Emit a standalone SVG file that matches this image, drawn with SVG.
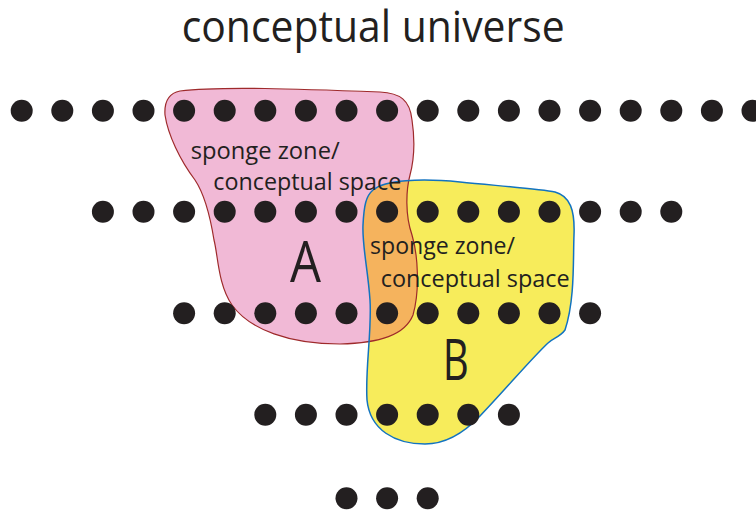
<svg xmlns="http://www.w3.org/2000/svg" width="756" height="512" viewBox="0 0 756 512">
<style>
.dot{fill:#231f20}
.t{font-family:"Open Sans","Liberation Sans",sans-serif;fill:#231f20}
.lbl{font-size:23px}
.big{font-size:56px}
</style>
<defs>
<path id="pinkShape" d="M 180,91 C 220,86 300,89 380,92 C 400,93 410,100 412,120 C 415,140 414,160 410,175 C 406,190 405,215 412,235 C 418,255 420,290 413,315 C 405,335 380,343 340,344 C 290,344 250,330 232,305 C 218,285 218,255 214,240 C 210,215 205,195 195,180 C 180,160 168,135 165,115 C 164,100 170,93 180,91 Z"/>
<path id="yellowShape" d="M 373,190 C 385,180 420,178 460,182 C 500,186 540,189 555,192 C 570,196 575,210 574,235 C 573,260 575,300 565,330 C 560,337 553,338 548,343 C 530,360 505,390 480,416 C 460,437 440,444 425,444 C 395,444 370,430 367,400 C 365,370 372,330 370,300 C 368,270 362,245 363,225 C 364,205 366,196 373,190 Z"/>
<clipPath id="yclip"><use href="#yellowShape"/></clipPath>
</defs>
<text class="t" x="181.7" y="41.7" font-size="44" textLength="383" lengthAdjust="spacingAndGlyphs">conceptual universe</text>
<g id="zoneA">
<use href="#pinkShape" fill="#f1b9d6"/>
</g>
<g id="zoneB">
<use href="#yellowShape" fill="#f7ec5b"/>
<use href="#pinkShape" fill="#f5b35d" clip-path="url(#yclip)"/>
<use href="#pinkShape" fill="none" stroke="#9e2a2b" stroke-width="1.2"/>
<use href="#yellowShape" fill="none" stroke="#1273c0" stroke-width="1.5"/>
</g>
<g id="dots">
<g id="row1">
<circle class="dot" cx="21.7" cy="110.7" r="11"/>
<circle class="dot" cx="62.3" cy="110.7" r="11"/>
<circle class="dot" cx="102.9" cy="110.7" r="11"/>
<circle class="dot" cx="143.5" cy="110.7" r="11"/>
<circle class="dot" cx="184.1" cy="110.7" r="11"/>
<circle class="dot" cx="224.7" cy="110.7" r="11"/>
<circle class="dot" cx="265.3" cy="110.7" r="11"/>
<circle class="dot" cx="305.9" cy="110.7" r="11"/>
<circle class="dot" cx="346.5" cy="110.7" r="11"/>
<circle class="dot" cx="387.1" cy="110.7" r="11"/>
<circle class="dot" cx="427.7" cy="110.7" r="11"/>
<circle class="dot" cx="468.3" cy="110.7" r="11"/>
<circle class="dot" cx="508.9" cy="110.7" r="11"/>
<circle class="dot" cx="549.5" cy="110.7" r="11"/>
<circle class="dot" cx="590.1" cy="110.7" r="11"/>
<circle class="dot" cx="630.7" cy="110.7" r="11"/>
<circle class="dot" cx="671.3" cy="110.7" r="11"/>
<circle class="dot" cx="711.9" cy="110.7" r="11"/>
<circle class="dot" cx="752.5" cy="110.7" r="11"/>
</g>
<g id="row2">
<circle class="dot" cx="102.9" cy="211.7" r="11"/>
<circle class="dot" cx="143.5" cy="211.7" r="11"/>
<circle class="dot" cx="184.1" cy="211.7" r="11"/>
<circle class="dot" cx="224.7" cy="211.7" r="11"/>
<circle class="dot" cx="265.3" cy="211.7" r="11"/>
<circle class="dot" cx="305.9" cy="211.7" r="11"/>
<circle class="dot" cx="346.5" cy="211.7" r="11"/>
<circle class="dot" cx="387.1" cy="211.7" r="11"/>
<circle class="dot" cx="427.7" cy="211.7" r="11"/>
<circle class="dot" cx="468.3" cy="211.7" r="11"/>
<circle class="dot" cx="508.9" cy="211.7" r="11"/>
<circle class="dot" cx="549.5" cy="211.7" r="11"/>
<circle class="dot" cx="590.1" cy="211.7" r="11"/>
<circle class="dot" cx="630.7" cy="211.7" r="11"/>
<circle class="dot" cx="671.3" cy="211.7" r="11"/>
</g>
<g id="row3">
<circle class="dot" cx="184.1" cy="313.3" r="11"/>
<circle class="dot" cx="224.7" cy="313.3" r="11"/>
<circle class="dot" cx="265.3" cy="313.3" r="11"/>
<circle class="dot" cx="305.9" cy="313.3" r="11"/>
<circle class="dot" cx="346.5" cy="313.3" r="11"/>
<circle class="dot" cx="387.1" cy="313.3" r="11"/>
<circle class="dot" cx="427.7" cy="313.3" r="11"/>
<circle class="dot" cx="468.3" cy="313.3" r="11"/>
<circle class="dot" cx="508.9" cy="313.3" r="11"/>
<circle class="dot" cx="549.5" cy="313.3" r="11"/>
<circle class="dot" cx="590.1" cy="313.3" r="11"/>
</g>
<g id="row4">
<circle class="dot" cx="265.3" cy="414.7" r="11"/>
<circle class="dot" cx="305.9" cy="414.7" r="11"/>
<circle class="dot" cx="346.5" cy="414.7" r="11"/>
<circle class="dot" cx="387.1" cy="414.7" r="11"/>
<circle class="dot" cx="427.7" cy="414.7" r="11"/>
<circle class="dot" cx="468.3" cy="414.7" r="11"/>
<circle class="dot" cx="508.9" cy="414.7" r="11"/>
</g>
<g id="row5">
<circle class="dot" cx="346.5" cy="498.3" r="11"/>
<circle class="dot" cx="387.1" cy="498.3" r="11"/>
<circle class="dot" cx="427.7" cy="498.3" r="11"/>
</g>
</g>
<g id="labelsA">
<text class="t lbl" x="190.7" y="159.3" textLength="149" lengthAdjust="spacingAndGlyphs">sponge zone/</text>
<text class="t lbl" x="213.3" y="189.6" textLength="188" lengthAdjust="spacingAndGlyphs">conceptual space</text>
<text class="t big" x="290" y="281.7" textLength="31" lengthAdjust="spacingAndGlyphs">A</text>
</g>
<g id="labelsB">
<text class="t lbl" x="370" y="254.3" textLength="145" lengthAdjust="spacingAndGlyphs">sponge zone/</text>
<text class="t lbl" x="380.7" y="286.7" textLength="189" lengthAdjust="spacingAndGlyphs">conceptual space</text>
<text class="t big" x="442.7" y="380" textLength="26" lengthAdjust="spacingAndGlyphs">B</text>
</g>
</svg>
